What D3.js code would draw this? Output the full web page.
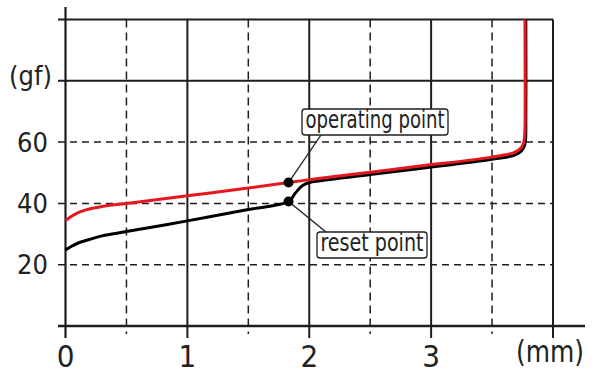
<!DOCTYPE html>
<html>
<head>
<meta charset="utf-8">
<script src="https://cdn.jsdelivr.net/npm/d3@7"></script>
<style>
  html, body { margin: 0; padding: 0; background: #fff; }
  svg { display: block; }
  text { font-family: "DejaVu Sans Condensed", "Liberation Sans Narrow", sans-serif; fill: #222; }
</style>
</head>
<body>
<svg id="chart" width="601" height="383"></svg>
<script>
// ---- data ----
const xTickLabels = ["0", "1", "2", "3"];
const xTickValues = [0, 1, 2, 3];
const xUnit = "(mm)";
const yTickValues = [20, 40, 60];
const yUnit = "(gf)";
const xSolidGrid = [1, 2, 3, 4];
const xDashedGrid = [0.5, 1.5, 2.5, 3.5];
const ySolidGrid = [80, 100];
const yDashedGrid = [20, 40, 60];

// operating (red) curve: [stroke mm, force gf]
const operatingX = [0, 0.05, 0.1, 0.16, 0.3, 0.5, 1.0, 1.5, 1.83, 2.09, 2.5, 2.91, 3.5, 3.68, 3.73, 3.755, 3.766, 3.77, 3.77];
const operatingY = [34.4, 35.8, 36.9, 37.8, 39.0, 40.0, 42.5, 45.0, 46.8, 48.2, 50.2, 52.2, 55.1, 56.6, 57.8, 59.3, 61.5, 65, 100];
// reset (black) curve
const resetX = [0, 0.05, 0.1, 0.16, 0.3, 0.5, 1.0, 1.5, 1.83, 1.885, 1.94, 2.0, 2.09, 2.5, 2.91, 3.5, 3.68, 3.735, 3.762, 3.774, 3.777, 3.777];
const resetY = [24.8, 26.0, 27.0, 27.8, 29.4, 30.8, 34.3, 38.0, 40.6, 43.3, 45.7, 46.8, 47.4, 49.4, 51.4, 54.4, 55.7, 56.9, 58.4, 60.5, 64, 100];

const markers = [
  { name: "operating point", x: 1.83, y: 46.8 },
  { name: "reset point", x: 1.83, y: 40.6 }
];

// ---- scales ----
const svg = d3.select("#chart");
const x = d3.scaleLinear().domain([0, 4]).range([65.5, 553]);
const y = d3.scaleLinear().domain([0, 100]).range([326, 19.5]);
const ink = "#1e1e1e";

// dashed grid
svg.append("g").selectAll("line").data(yDashedGrid).join("line")
  .attr("x1", 58).attr("x2", x(4))
  .attr("y1", d => y(d)).attr("y2", d => y(d))
  .attr("stroke", ink).attr("stroke-width", 1.5).attr("stroke-dasharray", "7,5");
svg.append("g").selectAll("line").data(xDashedGrid).join("line")
  .attr("x1", d => x(d)).attr("x2", d => x(d))
  .attr("y1", y(100)).attr("y2", 334)
  .attr("stroke", ink).attr("stroke-width", 1.5).attr("stroke-dasharray", "8,5");

// solid grid
svg.append("g").selectAll("line").data(ySolidGrid).join("line")
  .attr("x1", 58).attr("x2", x(4))
  .attr("y1", d => y(d)).attr("y2", d => y(d))
  .attr("stroke", ink).attr("stroke-width", 2);
svg.append("g").selectAll("line").data(xSolidGrid).join("line")
  .attr("x1", d => x(d)).attr("x2", d => x(d))
  .attr("y1", y(100)).attr("y2", 338)
  .attr("stroke", ink).attr("stroke-width", 2);

// axes
svg.append("line").attr("x1", x(0)).attr("x2", x(0)).attr("y1", 7).attr("y2", 338)
  .attr("stroke", ink).attr("stroke-width", 2.2);
svg.append("line").attr("x1", 58).attr("x2", 585).attr("y1", y(0)).attr("y2", y(0))
  .attr("stroke", ink).attr("stroke-width", 2.4);

// tick labels
svg.append("g").selectAll("text").data(xTickValues).join("text")
  .attr("x", d => x(d)).attr("y", 367)
  .attr("text-anchor", "middle").attr("font-size", 31)
  .text((d, i) => xTickLabels[i]);
svg.append("text").attr("x", 550).attr("y", 362).attr("text-anchor", "middle")
  .attr("font-size", 31).attr("textLength", 68).attr("lengthAdjust", "spacingAndGlyphs").text(xUnit);
svg.append("g").selectAll("text").data(yTickValues).join("text")
  .attr("x", 48).attr("y", d => y(d)).attr("dy", "0.36em")
  .attr("text-anchor", "end").attr("font-size", 27)
  .text(d => d);
svg.append("text").attr("x", 52).attr("y", 85).attr("text-anchor", "end")
  .attr("font-size", 27).text(yUnit);

// curves
const line = d3.line().x(d => x(d[0])).y(d => y(d[1])).curve(d3.curveCatmullRom.alpha(0.5));
svg.append("path").datum(resetX.map((v, i) => [v, resetY[i]]))
  .attr("d", line).attr("fill", "none").attr("stroke", "#000").attr("stroke-width", 3)
  .attr("stroke-linejoin", "round");
svg.append("path").datum(operatingX.map((v, i) => [v, operatingY[i]]))
  .attr("d", line).attr("fill", "none").attr("stroke", "#e5171f").attr("stroke-width", 3)
  .attr("stroke-linejoin", "round");

// callouts
const callouts = [
  { m: markers[0], tx: 305.5, ty: 128, w: 139, lx: 321, ly: 135 },
  { m: markers[1], tx: 320.5, ty: 251, w: 103, lx: 326, ly: 232 }
];
callouts.forEach(c => {
  svg.append("line").attr("x1", x(c.m.x)).attr("y1", y(c.m.y)).attr("x2", c.lx).attr("y2", c.ly)
    .attr("stroke", ink).attr("stroke-width", 1.3);
});
callouts.forEach(c => {
  const g = svg.append("g");
  g.append("rect").attr("x", c.tx - 3.5).attr("y", c.ty - 19).attr("width", c.w + 7).attr("height", 26)
    .attr("rx", 3).attr("fill", "#fff").attr("stroke", ink).attr("stroke-width", 1.3);
  g.append("text").attr("x", c.tx).attr("y", c.ty).attr("font-size", 24)
    .attr("textLength", c.w).attr("lengthAdjust", "spacingAndGlyphs").text(c.m.name);
});
svg.append("g").selectAll("circle").data(markers).join("circle")
  .attr("cx", d => x(d.x)).attr("cy", d => y(d.y)).attr("r", 5).attr("fill", "#000");
</script>
</body>
</html>
